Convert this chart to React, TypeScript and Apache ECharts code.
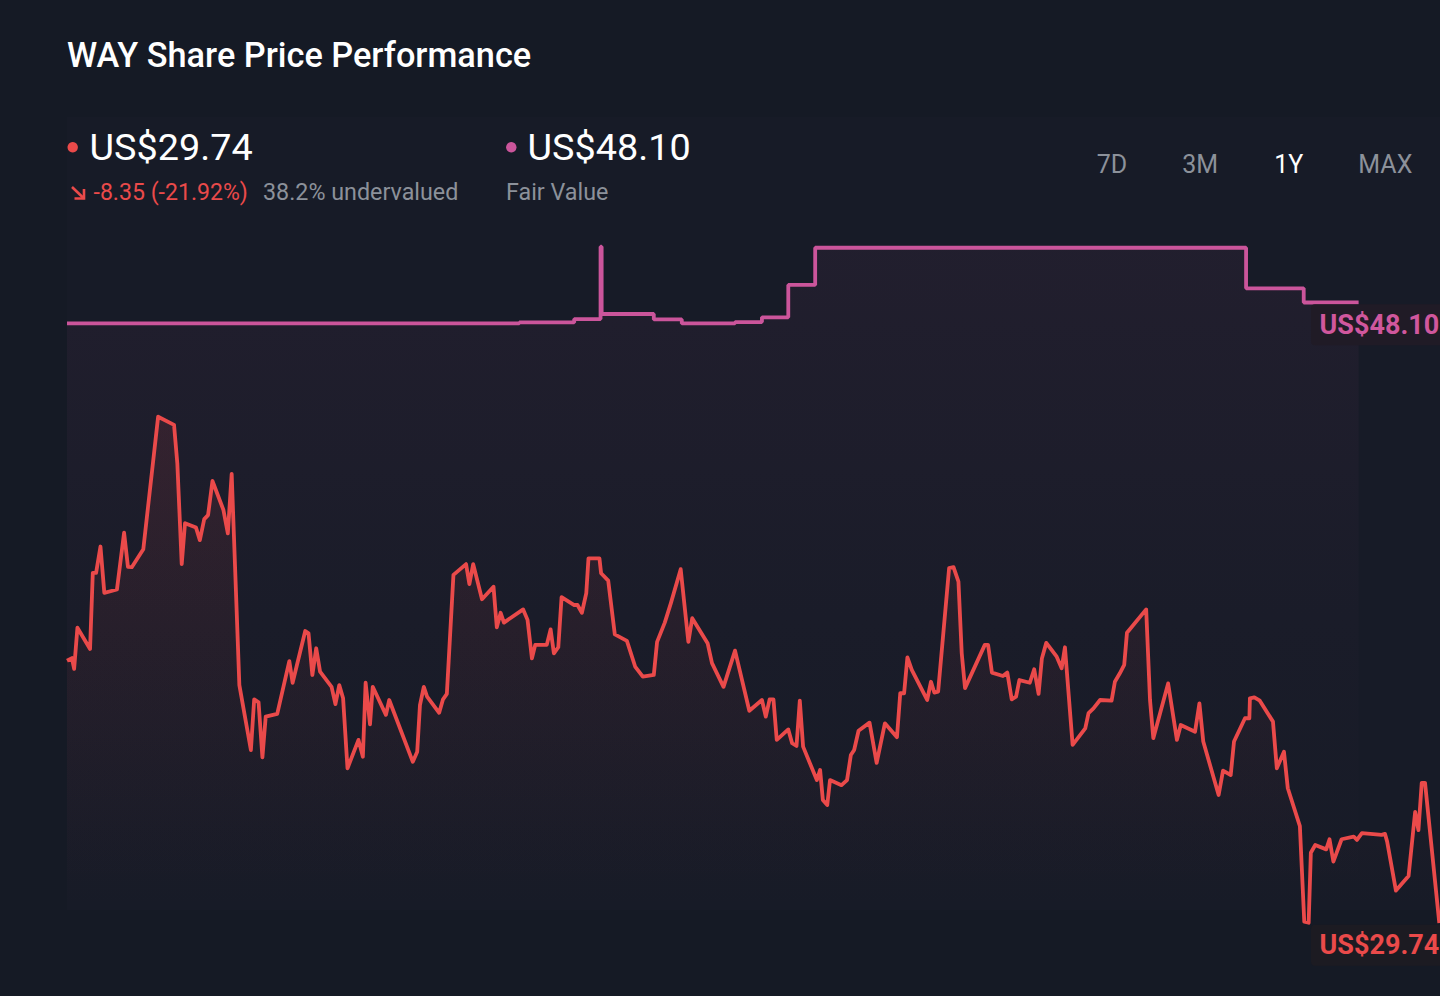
import React, { useEffect, useRef } from "react";
import * as echarts from "echarts";

// ---- Data ----
// x: trading-day index over the 1Y window, y: share price in US$
const priceDays = [
  0, 0.9, 1.3, 1.9, 4.2, 4.7, 5.3, 6.1, 6.8, 9.1, 10.4, 11.1, 11.8, 13.9, 16.6, 19.5, 20.1, 20.9, 21.5, 23.5,
  24.2, 25.0, 25.7, 26.5, 28.5, 29.3, 30.0, 31.4, 33.5, 34.1, 34.9, 35.6, 36.2, 38.3, 40.5, 41.1, 43.4, 44.0, 44.7, 45.4,
  46.1, 48.2, 48.9, 49.6, 50.3, 51.1, 53.1, 53.9, 54.4, 55.2, 55.7, 58.1, 58.7, 63.0, 63.8, 64.3, 65.0, 65.6, 67.8, 68.5,
  69.2, 70.4, 72.7, 73.3, 74.0, 75.6, 77.7, 78.3, 79.0, 79.6, 83.1, 83.9, 84.7, 85.3, 87.4, 88.1, 88.7, 89.5, 90.1, 92.4,
  93.0, 93.8, 94.6, 95.0, 97.0, 97.3, 98.6, 99.8, 102.0, 103.5, 104.9, 106.9, 107.5, 108.9, 110.0, 111.8, 113.2, 113.9, 116.7, 117.5,
  119.6, 121.7, 124.3, 126.6, 127.3, 128.0, 128.7, 129.3, 131.4, 132.1, 132.9, 133.5, 134.1, 136.6, 137.2, 137.7, 138.5, 139.0, 141.1, 142.1,
  142.8, 143.4, 144.2, 146.2, 147.5, 149.0, 151.2, 151.8, 152.5, 153.1, 153.9, 156.7, 157.4, 158.0, 158.7, 160.7, 161.5, 162.4, 163.0, 163.6,
  167.2, 167.8, 168.5, 170.5, 171.3, 172.1, 172.9, 173.5, 175.4, 176.2, 177.0, 177.6, 178.4, 180.3, 181.2, 181.8, 183.2, 185.5, 186.1, 187.0,
  188.2, 190.3, 190.9, 191.8, 192.6, 193.1, 196.6, 197.3, 197.9, 200.6, 202.2, 202.9, 205.5, 206.3, 207.0, 209.8, 210.6, 212.0, 212.6, 214.6,
  215.4, 215.5, 216.3, 217.3, 219.7, 220.4, 221.7, 222.4, 224.6, 225.4, 226.2, 226.6, 227.4, 229.4, 230.0, 230.7, 232.2, 234.4, 235.0, 235.9,
  239.5, 240.1, 240.5, 242.1, 244.4, 245.6, 246.2, 246.8, 247.4, 250,
];
const priceValues = [
  37.50, 37.58, 37.26, 38.48, 37.85, 40.10, 40.10, 40.88, 39.51, 39.61, 41.29, 40.28, 40.27, 40.80, 44.72, 44.48, 43.34, 40.36, 41.57, 41.44,
  41.07, 41.69, 41.81, 42.82, 41.96, 41.27, 43.03, 36.78, 34.86, 36.36, 36.27, 34.64, 35.85, 35.93, 37.49, 36.85, 38.38, 38.31, 37.08, 37.87,
  37.18, 36.73, 36.22, 36.78, 36.39, 34.32, 35.16, 34.66, 36.85, 35.62, 36.73, 35.90, 36.34, 34.51, 34.81, 36.19, 36.73, 36.44, 35.96, 36.36,
  36.52, 40.04, 40.36, 39.77, 40.36, 39.32, 39.69, 38.49, 38.92, 38.63, 39.02, 38.71, 37.57, 37.97, 37.97, 38.43, 37.72, 37.90, 39.38, 39.15,
  39.15, 38.92, 39.50, 40.53, 40.53, 40.09, 39.87, 38.28, 38.09, 37.33, 37.03, 37.08, 38.06, 38.63, 39.20, 40.21, 38.06, 38.76, 38.02, 37.43,
  36.73, 37.80, 36.02, 36.34, 35.85, 36.36, 36.36, 35.16, 35.47, 35.06, 34.98, 36.32, 34.96, 33.97, 34.27, 33.38, 33.23, 33.97, 33.82, 33.97,
  34.71, 34.86, 35.43, 35.67, 34.48, 35.65, 35.24, 36.54, 36.54, 37.60, 37.23, 36.34, 36.88, 36.56, 36.59, 40.24, 40.27, 39.84, 37.72, 36.69,
  37.97, 37.97, 37.15, 37.05, 37.15, 36.36, 36.44, 36.93, 36.85, 37.25, 36.52, 37.57, 38.03, 37.62, 37.28, 37.90, 35.01, 35.50, 35.95, 36.09,
  36.34, 36.32, 36.88, 37.13, 37.38, 38.33, 39.02, 36.34, 35.21, 36.83, 35.16, 35.60, 35.40, 36.24, 35.11, 33.53, 34.25, 34.12, 35.11, 35.80,
  35.80, 36.39, 36.42, 36.32, 35.70, 34.32, 34.81, 33.73, 32.61, 29.78, 29.75, 31.82, 32.05, 31.92, 32.22, 31.56, 32.22, 32.30, 32.20, 32.40,
  32.35, 32.38, 32.15, 30.70, 31.13, 33.03, 32.49, 33.89, 33.89, 29.74,
];
// Fair value estimate (step line, value holds until next change)
const fairDays = [0, 82.4, 92.4, 97.2, 97.4, 106.9, 112.0, 121.7, 126.6, 131.4, 136.3, 214.8, 225.3, 235.3];
const fairValues = [47.48, 47.51, 47.61, 49.75, 47.76, 47.60, 47.48, 47.52, 47.66, 48.62, 49.72, 48.52, 48.10, 48.10];

const titleText = "WAY Share Price Performance";
const priceText = "US$29.74";
const changeText = "-8.35 (-21.92%)";
const valuationText = "38.2% undervalued";
const fairText = "US$48.10";
const fairLabel = "Fair Value";
const rangeTabs = ["7D", "3M", "1Y", "MAX"];
const activeTab = "1Y";

const BG = "#151a25";
const RED = "#ea4a4a";
const PINK = "#cb559b";
const GRAY = "#8c919a";
const FONT = "Roboto, 'Noto Sans', sans-serif";

export default function App() {
  const ref = useRef<HTMLDivElement>(null);

  useEffect(() => {
    if (!ref.current) return;
    const chart = echarts.init(ref.current, null, { renderer: "svg", width: 1440, height: 996 });

    const priceData = priceDays.map((d, i) => [d, priceValues[i]]);
    const fairData = fairDays.map((d, i) => [d, fairValues[i]]);

    chart.setOption({
      animation: false,
      backgroundColor: "transparent",
      grid: { left: 67, width: 1372.3, top: 238.28, height: 709.8, containLabel: false },
      xAxis: { type: "value", min: 0, max: 250, show: false },
      yAxis: { type: "value", min: 29, max: 50, show: false, splitLine: { show: false } },
      series: [
        {
          type: "line",
          name: "Fair Value",
          step: "end",
          data: fairData,
          symbol: "none",
          silent: true,
          z: 2,
          lineStyle: { color: PINK, width: 3.8 },
          areaStyle: {
            color: {
              type: "linear", x: 0, y: 245, x2: 0, y2: 910, global: true,
              colorStops: [
                { offset: 0, color: "rgba(201,85,154,0.085)" },
                { offset: 0.55, color: "rgba(201,85,154,0.025)" },
                { offset: 1, color: "rgba(201,85,154,0)" },
              ],
            },
          },
        },
        {
          type: "line",
          name: "Price",
          data: priceData,
          symbol: "none",
          silent: true,
          z: 3,
          lineStyle: { color: RED, width: 3.8, join: "round" },
          areaStyle: {
            color: {
              type: "linear", x: 0, y: 415, x2: 0, y2: 910, global: true,
              colorStops: [
                { offset: 0, color: "rgba(230,74,74,0.16)" },
                { offset: 1, color: "rgba(230,74,74,0)" },
              ],
            },
          },
        },
      ],
    });

    const yFair = chart.convertToPixel({ yAxisIndex: 0 }, fairValues[fairValues.length - 1]) as number;
    const yPrice = chart.convertToPixel({ yAxisIndex: 0 }, priceValues[priceValues.length - 1]) as number;

    const txt = (id: string, text: string, x: number, y: number, size: number, fill: string, weight: any = "normal", z = 50) => ({
      type: "text",
      id,
      z,
      style: { text, x, y, fill, fontSize: size, fontFamily: FONT, fontWeight: weight, verticalAlign: "middle", align: "left" },
    });

    const tabX = [1096.7, 1182.3, 1274.3, 1358.3];

    const elements: any[] = [
      txt("title", titleText, 67, 55, 34.3, "#ffffff", 500),
      { type: "circle", id: "dotPrice", z: 50, shape: { cx: 72.7, cy: 147.3, r: 5.2 }, style: { fill: RED } },
      txt("price", priceText, 89.5, 147, 37.8, "#ffffff"),
      { type: "line", id: "arrowBody", z: 50, shape: { x1: 72, y1: 187, x2: 84, y2: 198.5 }, style: { stroke: RED, lineWidth: 2.6 } },
      { type: "polyline", id: "arrowHead", z: 50, shape: { points: [[84, 189], [84, 198.5], [74.5, 198.5]] }, style: { stroke: RED, lineWidth: 2.6, fill: "none" } },
      txt("change", changeText, 93.5, 192, 23.1, RED),
      txt("valuation", valuationText, 263, 192, 23.3, GRAY),
      { type: "circle", id: "dotFair", z: 50, shape: { cx: 511.3, cy: 147.3, r: 5.2 }, style: { fill: PINK } },
      txt("fair", fairText, 527.5, 147, 37.8, "#ffffff"),
      txt("fairLbl", fairLabel, 506, 192, 23.3, GRAY),
      ...rangeTabs.map((t, i) => txt("tab" + i, t, tabX[i], 164.5, 25, t === activeTab ? "#ffffff" : GRAY)),
      { type: "rect", id: "fairBox", z: 60, shape: { x: 1311, y: yFair + 1.8, width: 170, height: 41, r: 4 }, style: { fill: "#201b26" } },
      txt("fairEnd", fairText, 1319.5, yFair + 22.3, 27, "#d0579d", "bold", 61),
      { type: "rect", id: "priceBox", z: 60, shape: { x: 1311, y: yPrice + 1.8, width: 170, height: 41, r: 4 }, style: { fill: "#1c1b22" } },
      txt("priceEnd", priceText, 1319.5, yPrice + 22.3, 27, RED, "bold", 61),
    ];

    chart.setOption({ graphic: { elements } });

    return () => chart.dispose();
  }, []);

  return (
    <div style={{ position: "fixed", left: 0, top: 0, width: 1440, height: 996, background: BG, overflow: "hidden" }}>
      <div style={{ position: "absolute", left: 67, top: 117, width: 1373, height: 793, background: "#171b27" }} />
      <div ref={ref} style={{ position: "absolute", left: 0, top: 0, width: 1440, height: 996 }} />
    </div>
  );
}
